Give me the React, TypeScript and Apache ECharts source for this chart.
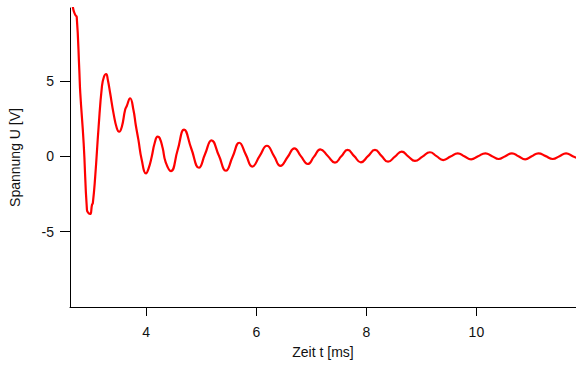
import React, { useEffect, useRef } from "react";
import * as echarts from "echarts";

// Zeit t [ms]
const timeMs: number[] = [
  2.64, 2.67, 2.711, 2.737, 2.784, 2.802, 2.863, 2.923, 2.95, 2.983, 3.014, 3.03,
  3.073, 3.135, 3.195, 3.231, 3.272, 3.303, 3.345, 3.406, 3.466, 3.508, 3.557,
  3.616, 3.647, 3.707, 3.768, 3.81, 3.859, 3.919, 3.996, 4.045, 4.1, 4.154, 4.208,
  4.244, 4.299, 4.353, 4.449, 4.57, 4.688, 4.82, 4.959, 5.07, 5.186, 5.32, 5.448,
  5.57, 5.692, 5.81, 5.928, 6.06, 6.194, 6.32, 6.44, 6.57, 6.693, 6.81, 6.936,
  7.05, 7.164, 7.3, 7.43, 7.545, 7.66, 7.78, 7.9, 8.03, 8.157, 8.275, 8.395, 8.52,
  8.643, 8.76, 8.883, 9.02, 9.155, 9.275, 9.397, 9.53, 9.662, 9.78, 9.904, 10.03,
  10.163, 10.285, 10.404, 10.525, 10.646, 10.765, 10.887, 11.005, 11.127, 11.26,
  11.388, 11.51, 11.629, 11.75, 11.87,
];

// Spannung U [V]
const voltage: number[] = [
  11.0, 9.84, 9.38, 9.25, 5.73, 4.18, 0.88, -3.56, -3.76, -3.83, -3.23, -3.1,
  -1.35, 1.96, 4.62, 5.26, 5.46, 5.06, 4.18, 2.85, 1.86, 1.63, 1.96,
  3.07, 3.34, 3.85, 3.07, 2.08, 1.07, -0.25, -1.13, -0.78, -0.03, 0.88, 1.3,
  1.21, 0.55, -0.38, -0.98, 0.4, 1.77, 0.5, -0.76, 0.15, 1.06, 0.05, -0.96,
  -0.03, 0.9, 0.11, -0.68, 0.01, 0.7, 0.03, -0.64, -0.05, 0.53, 0.01, -0.51,
  -0.02, 0.46, 0.02, -0.42, 0.0, 0.42, 0.01, -0.4, 0.01, 0.42, 0.03, -0.36, -0.02,
  0.31, 0.0, -0.31, -0.02, 0.27, 0.01, -0.25, -0.02, 0.2, 0.0, -0.2, 0.0,
  0.2, 0.01, -0.18, 0.01, 0.2, 0.0, -0.2, 0.0, 0.2, 0.01,
  -0.18, 0.01, 0.2, 0.01, -0.18,
];

const xTicks: number[] = [4, 6, 8, 10];
const yTicks: number[] = [-5, 0, 5];

const FONT = "'Liberation Sans', Arial, Helvetica, sans-serif";

export default function App() {
  const ref = useRef<HTMLDivElement>(null);

  useEffect(() => {
    if (!ref.current) return;
    const chart = echarts.init(ref.current, null, { renderer: "svg" });
    const data = timeMs.map((t, i) => [t, voltage[i]]);
    chart.setOption({
      animation: false,
      backgroundColor: "#ffffff",
      textStyle: { fontFamily: FONT },
      grid: { left: 68, right: 0, top: 8, bottom: 58, containLabel: false },
      xAxis: {
        type: "value",
        min: 2.615,
        max: 11.81,
        name: "Zeit t [ms]",
        nameLocation: "middle",
        nameGap: 38,
        nameTextStyle: { color: "#111", fontSize: 14, fontFamily: FONT },
        axisLine: { show: true, onZero: false, lineStyle: { color: "#000", width: 1 } },
        axisTick: { show: true, inside: false, length: 9, customValues: xTicks, lineStyle: { color: "#000", width: 1 } },
        axisLabel: { customValues: xTicks, margin: 18, color: "#111", fontSize: 14, fontFamily: FONT },
        splitLine: { show: false },
      },
      yAxis: {
        type: "value",
        min: -10,
        max: 9.84,
        name: "Spannung U [V]",
        nameLocation: "middle",
        nameGap: 48,
        nameRotate: 90,
        nameTextStyle: { color: "#111", fontSize: 14, fontFamily: FONT },
        axisLine: { show: true, onZero: false, lineStyle: { color: "#000", width: 1 } },
        axisTick: { show: true, inside: false, length: 10, customValues: yTicks, lineStyle: { color: "#000", width: 1 } },
        axisLabel: { customValues: yTicks, margin: 16, color: "#111", fontSize: 14, fontFamily: FONT },
        splitLine: { show: false },
      },
      series: [
        {
          type: "line",
          data,
          smooth: 0.5,
          symbol: "none",
          clip: true,
          lineStyle: { color: "#ff0000", width: 2.2 },
        },
      ],
    });
    return () => chart.dispose();
  }, []);

  return (
    <div
      ref={ref}
      style={{ position: "fixed", left: 0, top: 0, width: 576, height: 365 }}
    />
  );
}
